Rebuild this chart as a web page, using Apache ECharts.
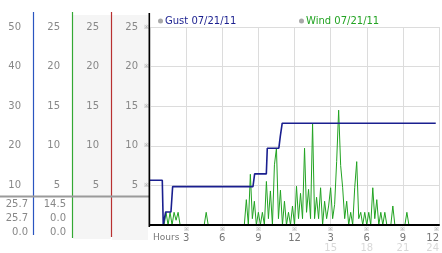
<!DOCTYPE html>
<html><head><meta charset="utf-8">
<script src="https://cdn.jsdelivr.net/npm/echarts@6/dist/echarts.min.js"></script>
<style>html,body{margin:0;padding:0;background:#fff}#c{width:442px;height:253px}</style>
</head><body><div id="c"></div>
<script>
// ---- data ----
const legendNames = ['Gust 07/21/11', 'Wind 07/21/11'];
// gust (plotted against the 0-50 blue column scale)
const gustHours  = [0, 1.02, 1.10, 1.30, 1.74, 1.88, 8.55, 8.69, 9.66, 9.74, 10.70, 10.82, 10.92, 10.98, 23.73];
const gustValues = [11.3, 11.3, 0, 3.3, 3.3, 9.7, 9.7, 12.9, 12.9, 19.4, 19.4, 22.4, 22.4, 25.7, 25.7];
// wind, one reading every 10 minutes from 0:00 to 24:00
const windStepHours = 1 / 6;
const windValues = [
  0,0,0,0,0,0,0,0,1.6,0,1.6,0,
  1.6,0.6,1.6,0,0,0,0,0,0,0,0,0,
  0,0,0,0,1.6,0,0,0,0,0,0,0,
  0,0,0,0,0,0,0,0,0,0,0,0,
  3.2,0,6.4,0.8,3.0,0,1.6,0,1.6,0,5.5,0.8,
  4.3,0,7.6,9.7,0.8,4.4,0,3.0,0,1.6,0,2.4,
  0,4.9,0.8,4.0,0.8,9.7,1.6,4.5,0.8,12.8,0.8,3.5,
  0.8,4.7,0,3.0,0.8,2.4,4.7,0.8,2.6,8.0,14.5,7.5,
  4.7,0.8,3.0,0,1.6,0,4.7,8.0,0.8,1.6,0,1.6,
  0,1.6,0,4.7,0.8,3.2,0,1.6,0,1.6,0,0,
  0,2.4,0,0,0,0,0,0,1.6,0,0,0,
  0,0,0,0,0,0,0,0,0,0,0,0,
  0
];
const statsGust = ['25.7', '25.7', '0.0'];
const statsWind = ['14.5', '0.0', '0.0'];

// ---- chart ----
const FONT = 'DejaVu Sans';
const GUST = '#1a1f8f', WIND = '#22a322';
const chart = echarts.init(document.getElementById('c'), null, {renderer: 'canvas'});

function yAx(max, interval, offset, show) {
  return {
    type: 'value', min: 0, max: max, interval: interval, position: 'left', offset: offset,
    axisLine: {show: false}, axisTick: {show: false},
    splitLine: {show: !!show, lineStyle: {color: '#dcdcdc', width: 1}},
    axisLabel: {margin: 12, color: '#888', fontFamily: FONT, fontSize: 10, showMinLabel: false}
  };
}
const yAxes = [yAx(50, 10, 117), yAx(25, 5, 78, true), yAx(25, 5, 39), yAx(25, 5, 0),
  {type: 'value', min: 0, max: 25, interval: 5, position: 'left', offset: 0,
   axisLine: {show: false}, axisTick: {show: false}, splitLine: {show: false},
   axisLabel: {margin: 1, color: '#999', fontSize: 6, showMinLabel: false, formatter: () => '※'}}];

const graphics = [
  {type: 'rect', shape: {x: 73, y: 15, width: 38, height: 224}, style: {fill: '#f5f5f5'}, z: -1},
  {type: 'rect', shape: {x: 112, y: 15, width: 36, height: 225}, style: {fill: '#f5f5f5'}, z: -1},
  {type: 'line', shape: {x1: 33.5, y1: 12, x2: 33.5, y2: 235}, style: {stroke: '#2a55c0', lineWidth: 1.2}},
  {type: 'line', shape: {x1: 72.5, y1: 12, x2: 72.5, y2: 238}, style: {stroke: '#33a833', lineWidth: 1.2}},
  {type: 'line', shape: {x1: 111.5, y1: 12, x2: 111.5, y2: 237}, style: {stroke: '#b83030', lineWidth: 1.2}},
  {type: 'line', shape: {x1: 0, y1: 196.5, x2: 149, y2: 196.5}, style: {stroke: '#9a9a9a', lineWidth: 2}},
  {type: 'line', shape: {x1: 149.3, y1: 13, x2: 149.3, y2: 227}, style: {stroke: '#000', lineWidth: 1.6}, z: 10}
];
statsGust.forEach((t, i) => graphics.push({type: 'text', x: 28, y: 204.5 + i * 14,
  style: {text: t, fill: '#888', font: '10px ' + FONT, textAlign: 'right', textVerticalAlign: 'middle'}}));
statsWind.forEach((t, i) => graphics.push({type: 'text', x: 66, y: 204.5 + i * 14,
  style: {text: t, fill: '#888', font: '10px ' + FONT, textAlign: 'right', textVerticalAlign: 'middle'}}));

const option = {
  animation: false,
  backgroundColor: '#fff',
  grid: {left: 150, right: 2, top: 27, bottom: 27, containLabel: false},
  legend: [
    {left: 158, top: 16, padding: 0, itemWidth: 5, itemHeight: 5, icon: 'circle', selectedMode: false,
     data: [{name: legendNames[0], itemStyle: {color: '#a8a8a8'}}],
     textStyle: {color: GUST, fontSize: 10, fontFamily: FONT, padding: [0, 0, 0, -3]}},
    {left: 299, top: 16, padding: 0, itemWidth: 5, itemHeight: 5, icon: 'circle', selectedMode: false,
     data: [{name: legendNames[1], itemStyle: {color: '#a8a8a8'}}],
     textStyle: {color: WIND, fontSize: 10, fontFamily: FONT, padding: [0, 0, 0, -3]}}
  ],
  xAxis: [
    {type: 'value', min: 0, max: 24, interval: 3, position: 'bottom',
     axisLine: {show: false}, axisTick: {show: false},
     splitLine: {show: true, lineStyle: {color: '#dcdcdc', width: 1}},
     axisLabel: {margin: 1, alignMinLabel: 'left', alignMaxLabel: 'right',
       formatter: v => {
         if (v === 0) return '{m| }\n{h|Hours}';
         const h12 = v > 12 ? v - 12 : v;
         return v > 12 ? '{m|※}\n{n|' + h12 + '}\n{l|' + v + '}' : '{m|※}\n{n|' + h12 + '}';
       },
       rich: {
         m: {fontSize: 6, lineHeight: 7, color: '#999'},
         n: {fontSize: 10, lineHeight: 10, color: '#777', fontFamily: FONT},
         l: {fontSize: 10, lineHeight: 10, color: '#d8d8d8', fontFamily: FONT},
         h: {fontSize: 9, lineHeight: 10, color: '#777', fontFamily: FONT, padding: [0, 0, 0, 3]}
       }}},
    {type: 'value', min: 0, max: 24, interval: 3, position: 'bottom', z: 10,
     axisLine: {show: true, lineStyle: {color: '#000', width: 2}}, axisTick: {show: false},
     splitLine: {show: false}, axisLabel: {show: false}}
  ],
  yAxis: yAxes,
  graphic: {elements: graphics},
  series: [
    {name: legendNames[0], type: 'line', xAxisIndex: 0, yAxisIndex: 0, symbol: 'none', z: 4,
     data: gustHours.map((h, i) => [h, gustValues[i]]),
     lineStyle: {color: GUST, width: 1.6}, itemStyle: {color: GUST}},
    {name: legendNames[1], type: 'line', xAxisIndex: 0, yAxisIndex: 1, symbol: 'none', z: 3,
     data: windValues.map((v, i) => [i * windStepHours, v]),
     lineStyle: {color: WIND, width: 1}, itemStyle: {color: WIND}}
  ]
};
chart.setOption(option);
</script>
</body></html>
